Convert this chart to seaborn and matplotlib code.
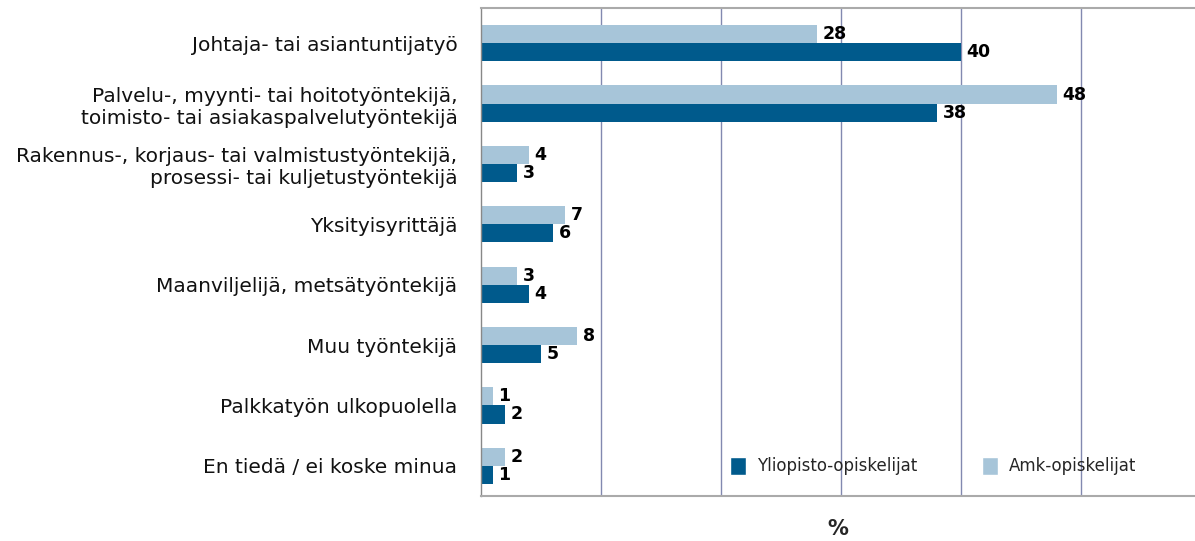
import pandas as pd
import seaborn as sns
import matplotlib.pyplot as plt
from matplotlib.patches import Patch

# data (%)
categories = [
    "Johtaja- tai asiantuntijatyö",
    "Palvelu-, myynti- tai hoitotyöntekijä,\ntoimisto- tai asiakaspalvelutyöntekijä",
    "Rakennus-, korjaus- tai valmistustyöntekijä,\nprosessi- tai kuljetustyöntekijä",
    "Yksityisyrittäjä",
    "Maanviljelijä, metsätyöntekijä",
    "Muu työntekijä",
    "Palkkatyön ulkopuolella",
    "En tiedä / ei koske minua",
]
amk = [28, 48, 4, 7, 3, 8, 1, 2]
yliopisto = [40, 38, 3, 6, 4, 5, 2, 1]
series = ["Amk-opiskelijat", "Yliopisto-opiskelijat"]

dark = "#005a8c"
light = "#a7c5d9"
grid_col = "#8289b0"

df = pd.DataFrame({
    "kategoria": categories * 2,
    "ryhma": [series[0]] * len(categories) + [series[1]] * len(categories),
    "osuus": amk + yliopisto,
})

sns.set_theme(style="white")
plt.rcParams["font.family"] = ["DejaVu Sans"]

fig = plt.figure(figsize=(11.95, 5.41), dpi=100)
ax = fig.add_axes([481 / 1195, 1 - 496 / 541, 714 / 1195, 488 / 541])

sns.barplot(data=df, y="kategoria", x="osuus", hue="ryhma", hue_order=series,
            palette=[light, dark], orient="h", width=0.6, saturation=1,
            linewidth=0, legend=False, ax=ax)

for cont in ax.containers:
    ax.bar_label(cont, padding=4, fontsize=12.5, fontweight="bold", color="black")

ax.set_xlim(0, 714 / 12)
ax.set_ylim(7.5, -0.5 - 5 / 60.4)
ax.set_xticks([10, 20, 30, 40, 50])
ax.set_xticklabels([])
ax.tick_params(axis="x", length=0)
ax.xaxis.grid(True, color=grid_col, linewidth=1)
ax.set_axisbelow(True)

ax.set_yticks(range(len(categories)))
ax.set_yticklabels(categories, fontsize=14.5, linespacing=1.2, color="#111111")
ax.tick_params(axis="y", which="major", length=0, pad=17)
ax.set_yticks([i - 0.5 for i in range(len(categories) + 1)], minor=True)
ax.tick_params(axis="y", which="minor", length=6, width=1, color="#888888", direction="out")
ax.set_ylabel("")

ax.set_xlabel("%", fontsize=15, fontweight="bold", labelpad=13)

for side in ["top", "bottom"]:
    ax.spines[side].set_color("#aaaaaa")
    ax.spines[side].set_linewidth(1.5)
ax.spines["left"].set_color("#888888")
ax.spines["left"].set_linewidth(1)
ax.spines["right"].set_visible(False)

handles = [Patch(facecolor=dark), Patch(facecolor=light)]
ax.legend(handles, ["Yliopisto-opiskelijat", "Amk-opiskelijat"], ncol=2,
          loc="center left", bbox_to_anchor=((730 - 481) / 714, 30 / 488),
          frameon=False, fontsize=12, handlelength=0.95, handleheight=1.35,
          handletextpad=0.65, columnspacing=3.9, borderpad=0, borderaxespad=0)

fig.savefig("out.png", dpi=100)
